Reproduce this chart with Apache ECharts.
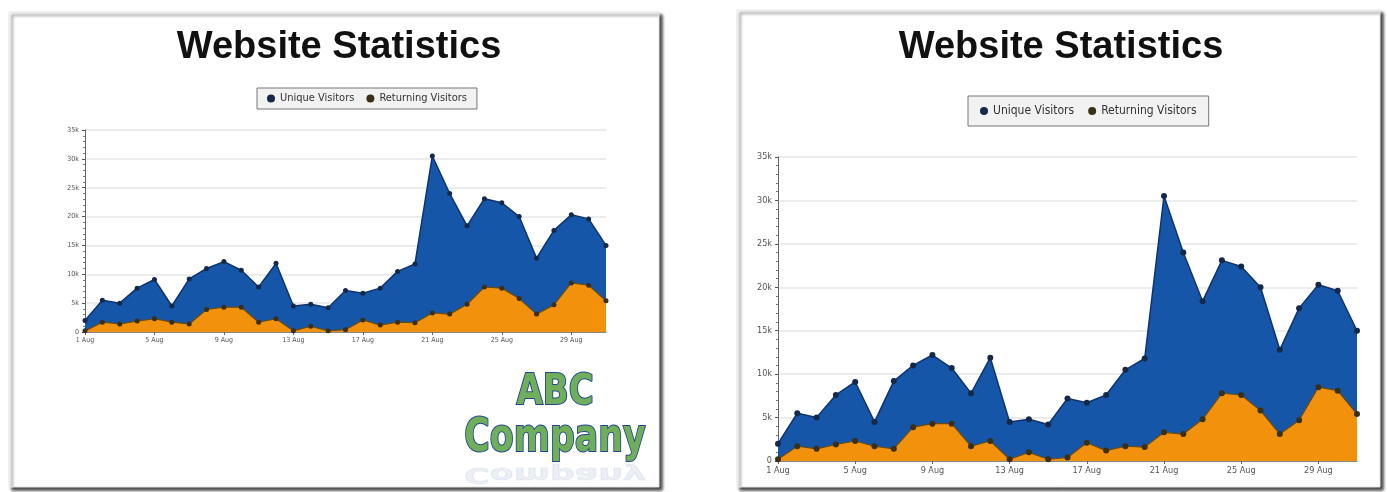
<!DOCTYPE html>
<html><head><meta charset="utf-8">
<script src="https://cdn.jsdelivr.net/npm/echarts@6/dist/echarts.min.js"></script>
<style>html,body{margin:0;padding:0;background:#fff;}#c{width:1387px;height:492px;}</style>
</head><body><div id="c"></div>
<script>
const days = ['1 Aug','2 Aug','3 Aug','4 Aug','5 Aug','6 Aug','7 Aug','8 Aug','9 Aug','10 Aug','11 Aug','12 Aug','13 Aug','14 Aug','15 Aug','16 Aug','17 Aug','18 Aug','19 Aug','20 Aug','21 Aug','22 Aug','23 Aug','24 Aug','25 Aug','26 Aug','27 Aug','28 Aug','29 Aug','30 Aug','31 Aug'];
const uniqueVisitors = [2000,5500,5000,7600,9100,4500,9200,11000,12200,10700,7800,11900,4500,4800,4200,7200,6700,7600,10500,11800,30500,24000,18400,23100,22400,20000,12800,17600,20300,19600,15000];
const returningVisitors = [200,1700,1400,1900,2300,1700,1400,3900,4300,4300,1700,2300,200,1000,200,400,2100,1200,1700,1600,3300,3100,4800,7800,7600,5800,3100,4700,8500,8100,5400];
const seriesNames = ['Unique Visitors','Returning Visitors'];
const titleText = 'Website Statistics';
const yTickLabels = ['0','5k','10k','15k','20k','25k','30k','35k'];

const chart = echarts.init(document.getElementById('c'));
const BLUE = '#1656a8', ORANGE = '#f2920c';

function yAxis(gi, fs){
  return {gridIndex:gi, type:'value', min:0, max:35000, interval:5000,
    axisLine:{show:true, lineStyle:{color:'#666', width:1}},
    axisTick:{show:true, length:3, lineStyle:{color:'#555'}},
    minorTick:{show:true, splitNumber:5, length:2, lineStyle:{color:'#777'}},
    splitLine:{lineStyle:{color:'#e6e6e6', width:1.5}},
    axisLabel:{fontSize:fs, color:'#555', margin:6, fontFamily:'Liberation Sans Narrow, DejaVu Sans Condensed, sans-serif',
      formatter:(v)=>yTickLabels[Math.round(v/5000)]}};
}
function xAxis(gi, fs){
  return {gridIndex:gi, type:'category', data:days, boundaryGap:false,
    axisLine:{show:true, lineStyle:{color:'#888'}},
    axisTick:{show:true, interval:3, length:3, lineStyle:{color:'#666'}},
    axisLabel:{interval:3, fontSize:fs, color:'#555', margin:5, fontFamily:'Liberation Sans Narrow, DejaVu Sans Condensed, sans-serif'},
    splitLine:{show:false}};
}
function ser(gi, sym){
  return [
    {name:seriesNames[0], type:'line', xAxisIndex:gi, yAxisIndex:gi, data:uniqueVisitors,
     symbol:'circle', symbolSize:sym, itemStyle:{color:'#14284a'},
     lineStyle:{color:'#0e3370', width:1.5}, areaStyle:{color:BLUE, opacity:1}, z:2},
    {name:seriesNames[1], type:'line', xAxisIndex:gi, yAxisIndex:gi, data:returningVisitors,
     symbol:'circle', symbolSize:sym, itemStyle:{color:'#3a3018'},
     lineStyle:{color:'#6a4a14', width:1.2}, areaStyle:{color:ORANGE, opacity:1}, z:3}
  ];
}
function legend(left, top, fs, pad, gap){
  return {left:left, top:top, orient:'horizontal', icon:'circle', itemWidth:8, itemHeight:8, itemGap:gap,
    backgroundColor:'#f2f2f2', borderColor:'#777', borderWidth:1, padding:pad,
    textStyle:{fontSize:fs, color:'#333', fontFamily:'Liberation Sans Narrow, DejaVu Sans Condensed, sans-serif'},
    data:seriesNames};
}
function logoText(txt, x, y, size, sx, refl){
  return {type:'text', x:x, y:y, z:20, scaleX:sx, scaleY: refl ? -0.45 : 1,
    style:{text:txt, font:'bold '+size+'px "Liberation Sans Narrow", "DejaVu Sans Condensed", sans-serif',
      fill: refl ? 'rgba(120,150,190,0.14)' : '#6fae5a', stroke: refl ? 'rgba(60,90,160,0.08)' : '#23478f', lineWidth:2,
      align:'center', verticalAlign:'bottom',
      shadowColor: refl ? 'transparent' : 'rgba(30,50,90,0.5)', shadowOffsetX:2, shadowOffsetY:2, shadowBlur:1}};
}

chart.setOption({
  animation:false,
  title:[
    {text:titleText, left:334, top:24, textAlign:'center', textStyle:{fontSize:38, fontWeight:'bold', color:'#111', fontFamily:'Liberation Sans, Arial, sans-serif'}},
    {text:titleText, left:1056, top:24, textAlign:'center', textStyle:{fontSize:38, fontWeight:'bold', color:'#111', fontFamily:'Liberation Sans, Arial, sans-serif'}}
  ],
  legend:[legend(257, 88, 11, [5,10], 12), legend(968, 96, 12, [9,12], 14)],
  grid:[
    {left:85, right:1387-606, top:130, bottom:492-332},
    {left:778, right:1387-1357, top:157, bottom:492-461}
  ],
  xAxis:[xAxis(0,7), xAxis(1,9)],
  yAxis:[yAxis(0,7), yAxis(1,9)],
  series:[...ser(0,5), ...ser(1,6)],
  graphic:[
    {type:'rect', z:-10, shape:{x:9,y:12,width:650,height:475}, style:{fill:'#fff', stroke:'#e4e4e4', lineWidth:1, shadowColor:'rgba(0,0,0,0.75)', shadowBlur:3, shadowOffsetX:3, shadowOffsetY:3}},
    {type:'rect', z:-10, shape:{x:737,y:10,width:643,height:477}, style:{fill:'#fff', stroke:'#e4e4e4', lineWidth:1, shadowColor:'rgba(0,0,0,0.75)', shadowBlur:3, shadowOffsetX:3, shadowOffsetY:3}},
    logoText('ABC', 555, 414, 42, 0.9, false),
    logoText('Company', 555, 462, 46, 0.84, false),
    logoText('Company', 555, 463, 46, 0.84, true)
  ]
});
</script></body></html>
